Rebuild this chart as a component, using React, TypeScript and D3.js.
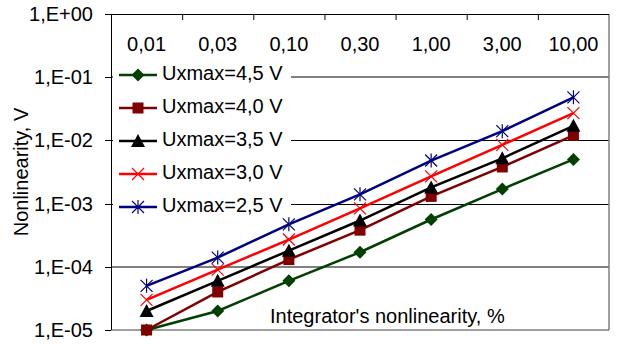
import React from "react";
import * as d3 from "d3";

const categories = ["0,01", "0,03", "0,10", "0,30", "1,00", "3,00", "10,00"];
const seriesNames = ["Uxmax=4,5 V", "Uxmax=4,0 V", "Uxmax=3,5 V", "Uxmax=3,0 V", "Uxmax=2,5 V"];
const s45 = [1e-5, 2e-5, 6e-5, 1.7e-4, 5.6e-4, 1.7e-3, 5e-3];
const s40 = [1e-5, 4e-5, 1.3e-4, 3.8e-4, 1.3e-3, 3.8e-3, 1.2e-2];
const s35 = [2e-5, 6e-5, 1.8e-4, 5.4e-4, 1.8e-3, 5.2e-3, 1.7e-2];
const s30 = [3e-5, 9e-5, 2.7e-4, 8.4e-4, 2.7e-3, 8.5e-3, 2.7e-2];
const s25 = [5e-5, 1.4e-4, 4.7e-4, 1.4e-3, 4.8e-3, 1.4e-2, 4.8e-2];
const yTicks = [1, 1e-1, 1e-2, 1e-3, 1e-4, 1e-5];
const yTickLabels = ["1,E+00", "1,E-01", "1,E-02", "1,E-03", "1,E-04", "1,E-05"];
const xTitle = "Integrator's nonlinearity, %";
const yTitle = "Nonlinearity, V";

const seriesData = [s45, s40, s35, s30, s25];
const colors = ["#004000", "#800000", "#000000", "#ff0000", "#000080"];
const markerKinds = ["diamond", "square", "triangle", "x", "star"];

const FONT = "'Liberation Sans', Arial, sans-serif";

function Marker({ kind, x, y, color }: { kind: string; x: number; y: number; color: string }) {
  const t = `translate(${x},${y})`;
  if (kind === "diamond") return <path transform={t} d="M0,-6.5L6.5,0L0,6.5L-6.5,0Z" fill={color} />;
  if (kind === "square") return <rect transform={t} x={-5.5} y={-5.5} width={11} height={11} fill={color} />;
  if (kind === "triangle") return <path transform={t} d="M0,-7L7,6L-7,6Z" fill={color} />;
  if (kind === "x")
    return <path transform={t} d="M-6,-6L6,6M-6,6L6,-6" stroke={color} strokeWidth={1.2} fill="none" />;
  return <path transform={t} d="M-6,-6L6,6M-6,6L6,-6M0,-7L0,7" stroke={color} strokeWidth={1.2} fill="none" />;
}

export default function App() {
  const W = 619, H = 345;
  const left = 111, right = 609, top = 14, bottom = 330;
  const x = d3.scaleBand<string>().domain(categories).range([left, right]).padding(0);
  const y = d3.scaleLog().domain([1e-5, 1]).range([bottom, top]);
  const cx = (c: string) => (x(c) as number) + x.bandwidth() / 2;
  const line = d3
    .line<number>()
    .x((_, i) => cx(categories[i]))
    .y((v) => y(v));

  const legendX = 119;
  const legendY0 = 75;
  const legendStep = 33;

  return (
    <svg width={W} height={H} style={{ position: "absolute", left: 0, top: 0, background: "#fff" }} fontFamily={FONT}>
      <rect x={0} y={0} width={W} height={H} fill="#fff" />
      {/* gridlines */}
      {yTicks.slice(1, 5).map((t, i) => {
        const gy = Math.round(y(t));
        const gray = i === 0 || i === 3;
        return (
          <line key={i} x1={left} x2={right} y1={gray ? gy : gy + 0.5} y2={gray ? gy : gy + 0.5}
            stroke={gray ? "#808080" : "#000"} strokeWidth={gray ? 2 : 1} />
        );
      })}
      {/* plot border right & bottom */}
      <line x1={right} x2={right} y1={top} y2={bottom} stroke="#808080" strokeWidth={1.5} />
      <line x1={left} x2={right} y1={bottom} y2={bottom} stroke="#404040" strokeWidth={1.2} />
      {/* top axis */}
      <line x1={left - 6} x2={right} y1={top + 0.5} y2={top + 0.5} stroke="#000" strokeWidth={1} />
      {categories.map((c, i) => (
        <line key={"xt" + i} x1={(x(c) as number) + 0.5} x2={(x(c) as number) + 0.5} y1={top} y2={top + 6} stroke="#000" />
      ))}
      {categories.map((c, i) => (
        <text key={"xl" + i} x={cx(c)} y={51} textAnchor="middle" fontSize={20} fill="#000">
          {c}
        </text>
      ))}
      {/* left axis */}
      <line x1={left + 0.5} x2={left + 0.5} y1={top} y2={bottom} stroke="#000" />
      {yTicks.map((t, i) => (
        <g key={"yt" + i}>
          <line x1={left - 6} x2={left} y1={Math.round(y(t)) + 0.5} y2={Math.round(y(t)) + 0.5} stroke="#000" />
          <text x={93} y={y(t)} dy="0.35em" textAnchor="end" fontSize={20} fill="#000">
            {yTickLabels[i]}
          </text>
        </g>
      ))}
      {/* legend background */}
      <rect x={left + 2} y={58} width={178} height={164} fill="#fff" />
      {/* series */}
      {seriesData.map((s, si) => (
        <g key={"s" + si}>
          <path d={line(s) || ""} fill="none" stroke={colors[si]} strokeWidth={2.5} />
          {s.map((v, i) => (
            <Marker key={i} kind={markerKinds[si]} x={cx(categories[i])} y={y(v)} color={colors[si]} />
          ))}
        </g>
      ))}
      {/* legend */}
      {seriesNames.map((n, i) => {
        const ly = legendY0 + i * legendStep;
        return (
          <g key={"lg" + i}>
            <line x1={legendX} x2={legendX + 38} y1={ly} y2={ly} stroke={colors[i]} strokeWidth={2.5} />
            <Marker kind={markerKinds[i]} x={legendX + 19} y={ly} color={colors[i]} />
            <text x={legendX + 43} y={ly - 2} dy="0.35em" fontSize={20} fill="#000">
              {n}
            </text>
          </g>
        );
      })}
      {/* titles */}
      <text x={270} y={323} fontSize={20} fill="#000">
        {xTitle}
      </text>
      <text transform={`translate(28,172) rotate(-90)`} textAnchor="middle" fontSize={20} fill="#000">
        {yTitle}
      </text>
    </svg>
  );
}
